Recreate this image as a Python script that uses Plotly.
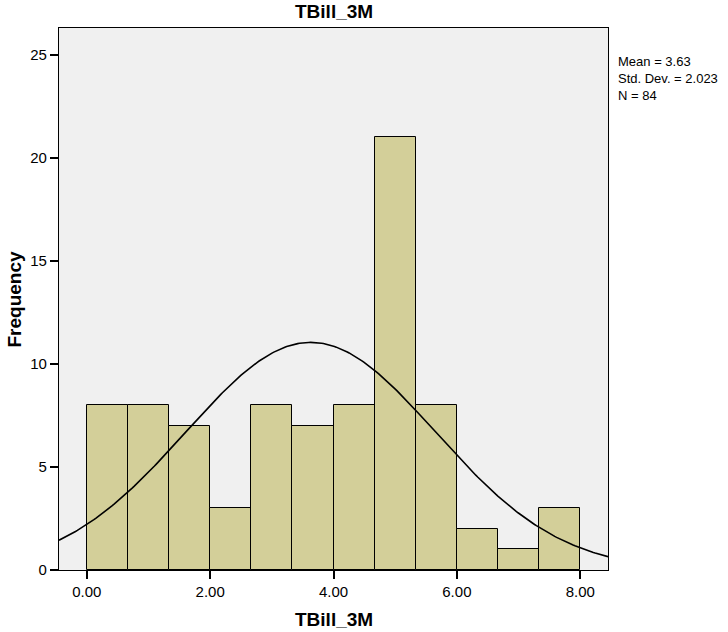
import numpy as np
import plotly.graph_objects as go

bin_edges = [0.0, 0.6667, 1.3333, 2.0, 2.6667, 3.3333, 4.0, 4.6667, 5.3333, 6.0, 6.6667, 7.3333, 8.0]
counts = [8, 8, 7, 3, 8, 7, 8, 21, 8, 2, 1, 3]
mean, sd, n = 3.63, 2.023, 84
x_ticks = [0, 2, 4, 6, 8]
x_tick_labels = ["0.00", "2.00", "4.00", "6.00", "8.00"]
y_ticks = [0, 5, 10, 15, 20, 25]
stats_lines = [f"Mean = {mean}", f"Std. Dev. = {sd}", f"N = {n}"]

centers = [(bin_edges[i] + bin_edges[i + 1]) / 2 for i in range(len(counts))]
width = bin_edges[1] - bin_edges[0]

fig = go.Figure()
fig.add_trace(go.Bar(
    x=centers, y=counts, width=[width] * len(counts),
    marker=dict(color="#d3cf99", line=dict(color="black", width=1)),
    showlegend=False, hoverinfo="skip"))

xs = np.linspace(-0.45, 8.45, 300)
ys = n * width / (sd * np.sqrt(2 * np.pi)) * np.exp(-0.5 * ((xs - mean) / sd) ** 2)
fig.add_trace(go.Scatter(x=xs, y=ys, mode="lines", line=dict(color="black", width=1.6),
                         showlegend=False, hoverinfo="skip"))

font = "Liberation Sans, Arial, sans-serif"
L, R, T, B = 59, 608, 28, 570
PH = B - T
fig.update_layout(
    width=728, height=632,
    margin=dict(l=L, r=728 - R, t=T, b=632 - B, autoexpand=False),
    paper_bgcolor="white", plot_bgcolor="#f0f0f0",
    bargap=0,
    font=dict(family=font, size=15, color="black"),
    xaxis=dict(range=[-0.45, 8.45], tickvals=x_ticks, ticktext=x_tick_labels,
               ticks="outside", ticklen=8, tickwidth=1.5, tickcolor="black",
               showgrid=False, zeroline=False, showline=True, linecolor="black",
               linewidth=1.2, mirror=True, automargin=False),
    yaxis=dict(range=[0, 26.3], tickvals=y_ticks, ticks="outside", ticklen=8,
               tickwidth=1.5, tickcolor="black",
               showgrid=False, zeroline=False, showline=True, linecolor="black",
               linewidth=1.2, mirror=True, automargin=False),
)
# Titles
fig.add_annotation(text="<b>TBill_3M</b>", xref="paper", yref="paper",
                   x=0.5, y=(B - 12) / PH, xanchor="center", yanchor="middle",
                   showarrow=False, font=dict(size=19, family=font))
fig.add_annotation(text="<b>TBill_3M</b>", xref="paper", yref="paper",
                   x=0.5, y=(B - 619) / PH, xanchor="center", yanchor="middle",
                   showarrow=False, font=dict(size=19, family=font))
fig.add_annotation(text="<b>Frequency</b>", xref="paper", yref="paper",
                   x=(13.5 - L) / (R - L), y=0.5, xanchor="center", yanchor="middle",
                   textangle=-90, showarrow=False, font=dict(size=19, family=font))
fig.add_annotation(text="<br>".join(stats_lines), xref="paper", yref="paper",
                   x=(617 - L) / (R - L), y=(B - 53) / PH,
                   xanchor="left", yanchor="top", align="left", showarrow=False,
                   borderpad=0, font=dict(size=13, family=font))

fig.write_html("out.html")
